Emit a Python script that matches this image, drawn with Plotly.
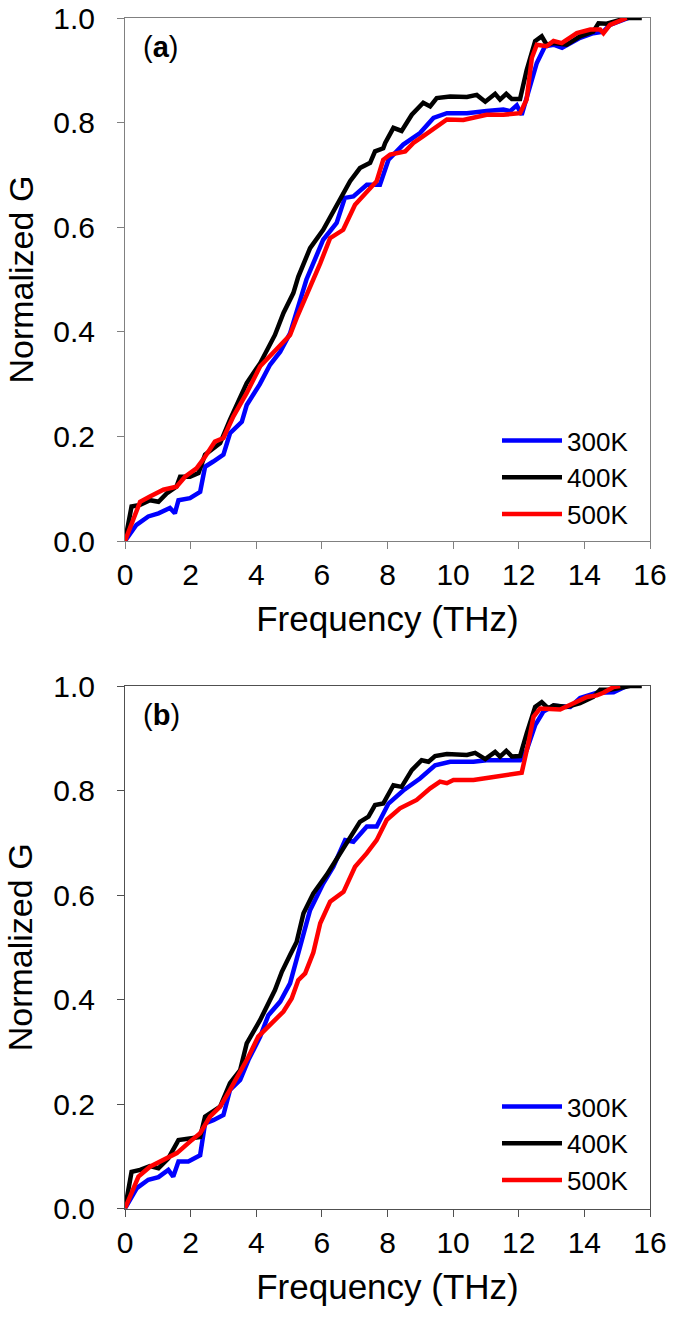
import plotly.graph_objects as go

# ---------------- Panel (a) ----------------
a_f300 = [0, 0.35, 0.71, 1.02, 1.37, 1.52, 1.63, 1.98, 2.29, 2.44, 2.69, 3.0, 3.2, 3.56, 3.71, 4.11, 4.42, 4.73, 5.03, 5.23, 5.53, 6.04, 6.45, 6.70, 6.96, 7.37, 7.77, 8.03, 8.48, 8.99, 9.40, 9.81, 10.42, 11.02, 11.53, 11.74, 11.94, 12.09, 12.35, 12.55, 12.80, 13.06, 13.32, 13.87, 14.27, 14.58, 14.78, 15.09, 15.34]
a_g300 = [0, 0.031, 0.047, 0.053, 0.063, 0.053, 0.078, 0.082, 0.094, 0.142, 0.152, 0.165, 0.206, 0.228, 0.26, 0.30, 0.337, 0.362, 0.397, 0.436, 0.50, 0.576, 0.608, 0.656, 0.659, 0.681, 0.681, 0.729, 0.758, 0.780, 0.809, 0.818, 0.818, 0.822, 0.825, 0.822, 0.833, 0.815, 0.87, 0.914, 0.946, 0.949, 0.943, 0.962, 0.971, 0.974, 0.987, 0.993, 1.0]

a_f400 = [0, 0.20, 0.46, 0.76, 1.02, 1.27, 1.57, 1.68, 1.98, 2.24, 2.44, 2.90, 3.2, 3.71, 4.12, 4.57, 4.83, 5.13, 5.28, 5.64, 6.04, 6.45, 6.86, 7.16, 7.47, 7.62, 7.87, 7.93, 8.18, 8.43, 8.74, 9.09, 9.30, 9.50, 9.91, 10.42, 10.72, 10.98, 11.28, 11.43, 11.62, 11.79, 12.04, 12.24, 12.50, 12.70, 12.85, 13.06, 13.46, 13.87, 14.27, 14.43, 14.68, 15.29, 15.75]
a_g400 = [0, 0.066, 0.069, 0.078, 0.075, 0.091, 0.104, 0.123, 0.123, 0.13, 0.165, 0.187, 0.232, 0.302, 0.34, 0.394, 0.436, 0.474, 0.505, 0.56, 0.595, 0.64, 0.688, 0.713, 0.723, 0.745, 0.751, 0.761, 0.79, 0.784, 0.815, 0.838, 0.831, 0.847, 0.85, 0.849, 0.853, 0.84, 0.855, 0.844, 0.855, 0.845, 0.845, 0.90, 0.956, 0.965, 0.949, 0.952, 0.949, 0.965, 0.974, 0.99, 0.989, 1.0, 1.0]

a_f500 = [0, 0.46, 0.76, 1.17, 1.57, 1.83, 2.18, 2.44, 2.74, 3.0, 3.30, 3.71, 4.12, 4.62, 5.03, 5.23, 5.53, 5.95, 6.25, 6.65, 7.01, 7.42, 7.67, 7.87, 8.08, 8.54, 8.79, 9.09, 9.81, 10.31, 11.02, 11.53, 12.04, 12.24, 12.40, 12.55, 12.85, 13.06, 13.31, 13.77, 14.18, 14.48, 14.58, 14.78, 15.29]
a_g500 = [0, 0.075, 0.085, 0.098, 0.104, 0.123, 0.139, 0.161, 0.19, 0.197, 0.238, 0.283, 0.334, 0.366, 0.394, 0.426, 0.468, 0.531, 0.579, 0.595, 0.643, 0.672, 0.688, 0.729, 0.739, 0.745, 0.761, 0.774, 0.806, 0.805, 0.815, 0.815, 0.818, 0.844, 0.924, 0.949, 0.946, 0.956, 0.952, 0.971, 0.978, 0.978, 0.971, 0.987, 1.0]

# ---------------- Panel (b) ----------------
b_f300 = [0, 0.36, 0.71, 1.02, 1.32, 1.47, 1.63, 1.93, 2.29, 2.44, 2.69, 3.0, 3.20, 3.51, 3.76, 4.12, 4.37, 4.73, 5.03, 5.28, 5.64, 6.04, 6.35, 6.71, 6.96, 7.37, 7.67, 8.03, 8.48, 8.99, 9.45, 9.91, 10.62, 11.02, 11.63, 12.04, 12.24, 12.50, 12.75, 13.06, 13.57, 13.87, 14.38, 14.89, 15.29]
b_g300 = [0, 0.039, 0.055, 0.06, 0.074, 0.061, 0.09, 0.09, 0.102, 0.163, 0.169, 0.179, 0.227, 0.246, 0.284, 0.329, 0.37, 0.396, 0.431, 0.49, 0.571, 0.622, 0.654, 0.705, 0.702, 0.731, 0.731, 0.775, 0.80, 0.823, 0.848, 0.855, 0.855, 0.858, 0.858, 0.858, 0.877, 0.925, 0.951, 0.962, 0.96, 0.977, 0.987, 0.988, 1.0]

b_f400 = [0, 0.20, 0.46, 0.76, 1.02, 1.32, 1.63, 1.98, 2.29, 2.44, 2.90, 3.2, 3.51, 3.71, 4.12, 4.57, 4.78, 5.03, 5.23, 5.44, 5.74, 6.14, 6.55, 6.86, 7.16, 7.42, 7.62, 7.87, 8.08, 8.18, 8.43, 8.74, 9.04, 9.25, 9.45, 9.81, 10.42, 10.67, 10.98, 11.28, 11.43, 11.62, 11.79, 12.04, 12.24, 12.50, 12.70, 12.90, 13.06, 13.46, 13.87, 14.27, 14.48, 14.78, 15.39, 15.75]
b_g400 = [0, 0.07, 0.074, 0.081, 0.077, 0.096, 0.131, 0.134, 0.137, 0.176, 0.195, 0.24, 0.265, 0.316, 0.361, 0.418, 0.453, 0.485, 0.51, 0.565, 0.603, 0.638, 0.68, 0.712, 0.74, 0.75, 0.772, 0.775, 0.80, 0.81, 0.807, 0.839, 0.858, 0.855, 0.866, 0.87, 0.868, 0.872, 0.86, 0.874, 0.865, 0.876, 0.865, 0.866, 0.909, 0.96, 0.969, 0.957, 0.963, 0.96, 0.967, 0.979, 0.993, 0.993, 1.0, 1.0]

b_f500 = [0, 0.41, 0.76, 1.17, 1.58, 1.98, 2.29, 2.59, 2.90, 3.2, 3.51, 3.76, 4.06, 4.42, 4.83, 5.08, 5.28, 5.49, 5.74, 5.95, 6.25, 6.66, 6.86, 7.01, 7.37, 7.67, 7.98, 8.38, 8.89, 9.30, 9.60, 9.81, 10.01, 10.62, 11.13, 11.63, 12.09, 12.29, 12.45, 12.65, 12.96, 13.26, 13.67, 14.08, 14.38, 14.58, 14.89, 15.09]
b_g500 = [0, 0.061, 0.08, 0.094, 0.106, 0.128, 0.144, 0.176, 0.195, 0.227, 0.262, 0.29, 0.329, 0.351, 0.377, 0.402, 0.437, 0.45, 0.49, 0.546, 0.587, 0.606, 0.635, 0.654, 0.68, 0.705, 0.744, 0.766, 0.782, 0.804, 0.817, 0.814, 0.82, 0.82, 0.825, 0.83, 0.834, 0.89, 0.941, 0.957, 0.957, 0.955, 0.967, 0.979, 0.982, 0.987, 0.998, 1.0]

series_names = ["300K", "400K", "500K"]
series_colors = ["#0000FF", "#000000", "#FF0000"]
x_ticks = [0, 2, 4, 6, 8, 10, 12, 14, 16]
y_ticks = [0.0, 0.2, 0.4, 0.6, 0.8, 1.0]
panel_labels = ["(<b>a</b>)", "(<b>b</b>)"]
y_title = "Normalized G"
x_title = "Frequency (THz)"

W, H = 675, 1325
FONT = "Liberation Sans, Arial, Helvetica, sans-serif"

fig = go.Figure()
panels = [
    ([a_f300, a_f400, a_f500], [a_g300, a_g400, a_g500], "x", "y", "legend"),
    ([b_f300, b_f400, b_f500], [b_g300, b_g400, b_g500], "x2", "y2", "legend2"),
]
for xs, ys, xa, ya, lg in panels:
    for name, color, fx, gy in zip(series_names, series_colors, xs, ys):
        fig.add_trace(go.Scatter(x=fx, y=gy, mode="lines", name=name,
                                 line=dict(color=color, width=4.5),
                                 xaxis=xa, yaxis=ya, legend=lg))

def px_x(p):
    return p / W

def px_y(p):
    return 1 - p / H

x_dom = [px_x(125), px_x(650)]
doms = [[px_y(541), px_y(18)], [px_y(1208.5), px_y(686)]]
axcol = ["#808080", "#505050"]

layout = dict(
    width=W, height=H, margin=dict(l=0, r=0, t=0, b=0, autoexpand=False),
    paper_bgcolor="white", plot_bgcolor="white",
    font=dict(family=FONT, color="black"),
    showlegend=True,
)
for i, (dom, col) in enumerate(zip(doms, axcol)):
    sfx = "" if i == 0 else str(i + 1)
    layout["xaxis" + sfx] = dict(
        domain=x_dom, anchor="y" + sfx, range=[0, 16], tickvals=x_ticks,
        ticks="outside", ticklen=7, tickcolor=col, showline=True, linecolor=col,
        linewidth=1, mirror=True, showgrid=False, zeroline=False, automargin=False,
        tickfont=dict(size=30), ticklabelstandoff=0, ticklabeloverflow="allow",
        title=dict(text=x_title, font=dict(size=35), standoff=16),
    )
    layout["yaxis" + sfx] = dict(
        domain=dom, anchor="x" + sfx, range=[0, 1], tickvals=y_ticks,
        tickformat=".1f", ticks="outside", ticklen=7, tickcolor=col,
        showline=True, linecolor=col, linewidth=1, mirror=True, automargin=False,
        showgrid=False, zeroline=False, tickfont=dict(size=30),
        ticklabelstandoff=16, ticklabeloverflow="allow",
    )
fig.update_layout(**layout)

for dom in doms:
    fig.add_annotation(text=y_title, textangle=-90, x=px_x(20), y=(dom[0] + dom[1]) / 2,
                       xref="paper", yref="paper", xanchor="center", yanchor="middle",
                       showarrow=False, font=dict(size=34, color="black"))

legend_y = [px_y(417), px_y(1083)]
for i, ly in enumerate(legend_y):
    key = "legend" if i == 0 else "legend2"
    fig.update_layout(**{key: dict(x=px_x(497), y=ly, xanchor="left", yanchor="top",
                                   bgcolor="rgba(0,0,0,0)", font=dict(size=26),
                                   itemwidth=60, tracegroupgap=0)})

for lab, yy in zip(panel_labels, [47, 715]):
    fig.add_annotation(text=lab, x=px_x(141), y=px_y(yy), xref="paper", yref="paper",
                       xanchor="left", yanchor="middle", showarrow=False,
                       font=dict(size=29, color="black"))

fig.write_html("out.html", config={"displayModeBar": False},
               post_script="document.body.style.margin='0';"
                           "document.body.style.overflow='hidden';")
